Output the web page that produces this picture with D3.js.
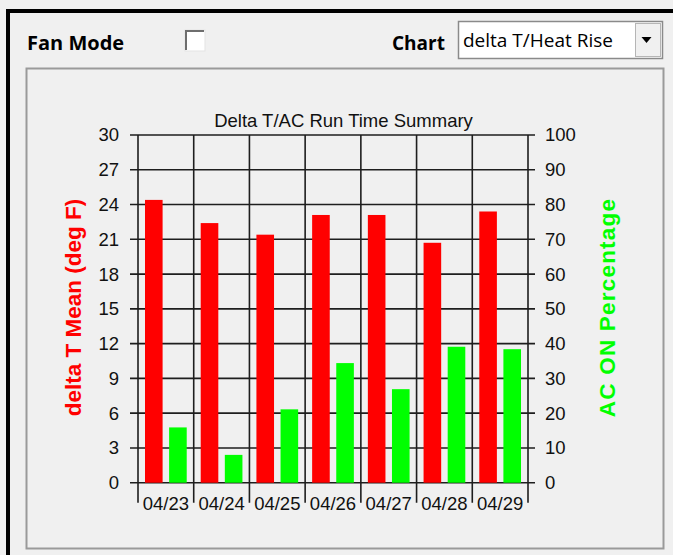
<!DOCTYPE html>
<html>
<head>
<meta charset="utf-8">
<script src="https://cdn.jsdelivr.net/npm/d3@7"></script>
<style>
  body { margin: 0; background: #f0f0f0; }
  svg { display: block; }
  .ui { font-family: "Open Sans", "Noto Sans", sans-serif; }
  .chart text { font-family: "Liberation Sans", Arial, sans-serif; fill: #111; }
</style>
</head>
<body>
<div id="chart"></div>
<script>
// data
const days = ["04/23", "04/24", "04/25", "04/26", "04/27", "04/28", "04/29"];
const deltaT = [24.4, 22.4, 21.4, 23.1, 23.1, 20.7, 23.4];
const acOn = [15.9, 8.0, 21.1, 34.4, 26.9, 39.1, 38.4];
const leftTicks = [0, 3, 6, 9, 12, 15, 18, 21, 24, 27, 30];
const rightTicks = [0, 10, 20, 30, 40, 50, 60, 70, 80, 90, 100];
const series = ["dt", "ac"];

const width = 673, height = 555;
const plot = { left: 138, right: 528, top: 135, bottom: 482.7 };

const svg = d3.select('#chart').append('svg')
	.attr('width', width)
	.attr('height', height);

// window frame
svg.append('rect')
	.attr('x', 8).attr('y', 11)
	.attr('width', 720).attr('height', 600)
	.attr('fill', '#f0f0f0')
	.attr('stroke', '#000')
	.attr('stroke-width', 4);

// top controls
svg.append('text').attr('class', 'ui')
	.attr('x', 27).attr('y', 50)
	.attr('font-size', 20).attr('font-weight', 'bold')
	.text('Fan Mode');

// checkbox
svg.append('rect')
	.attr('x', 185).attr('y', 30).attr('width', 20).attr('height', 21)
	.attr('fill', '#fff').attr('stroke', '#e3e3e3');
svg.append('path')
	.attr('d', 'M186,50 V31 H204')
	.attr('fill', 'none').attr('stroke', '#6e6e6e').attr('stroke-width', 2);

svg.append('text').attr('class', 'ui')
	.attr('x', 392).attr('y', 50)
	.attr('font-size', 19).attr('font-weight', 'bold')
	.text('Chart');

// dropdown
svg.append('rect')
	.attr('x', 458.5).attr('y', 21.5).attr('width', 204).attr('height', 37)
	.attr('fill', '#fff').attr('stroke', '#8a8a8a').attr('stroke-width', 1.5);
svg.append('rect')
	.attr('x', 635.5).attr('y', 23.5).attr('width', 25).attr('height', 33)
	.attr('fill', '#f0f0f0').attr('stroke', '#b5b5b5');
svg.append('path')
	.attr('d', 'M641.5,37 h10 l-5,6 z')
	.attr('fill', '#000');
svg.append('text').attr('class', 'ui')
	.attr('x', 463).attr('y', 47)
	.attr('font-size', 19)
	.text('delta T/Heat Rise');

// chart panel
svg.append('rect')
	.attr('x', 26.5).attr('y', 68.5)
	.attr('width', 637).attr('height', 480)
	.attr('fill', '#f0f0f0')
	.attr('stroke', '#9a9a9a')
	.attr('stroke-width', 2);

const g = svg.append('g').attr('class', 'chart');

const x = d3.scaleBand()
	.domain(days)
	.range([plot.left, plot.right]);
const xInner = d3.scaleBand()
	.domain(series)
	.range([0, x.bandwidth()])
	.paddingInner(0.27)
	.paddingOuter(0.29);
const yLeft = d3.scaleLinear().domain([0, 30]).range([plot.bottom, plot.top]);
const yRight = d3.scaleLinear().domain([0, 100]).range([plot.bottom, plot.top]);

// horizontal grid (with ticks both sides)
g.append('g')
	.selectAll('line')
	.data(leftTicks)
	.join('line')
	.attr('x1', plot.left - 8)
	.attr('x2', plot.right + 7)
	.attr('y1', d => yLeft(d))
	.attr('y2', d => yLeft(d))
	.attr('stroke', '#1e1e1e')
	.attr('stroke-width', 1.6);

// vertical separators between days
const bounds = days.map(d => x(d)).concat([plot.right]);
g.append('g')
	.selectAll('line')
	.data(bounds)
	.join('line')
	.attr('x1', d => d)
	.attr('x2', d => d)
	.attr('y1', plot.top)
	.attr('y2', plot.bottom + 20)
	.attr('stroke', '#1e1e1e')
	.attr('stroke-width', 1.6);

// bars
const groups = g.append('g')
	.selectAll('g')
	.data(days)
	.join('g')
	.attr('transform', d => `translate(${x(d)},0)`);

groups.append('rect')
	.attr('x', xInner('dt'))
	.attr('width', xInner.bandwidth())
	.attr('y', (d, i) => yLeft(deltaT[i]))
	.attr('height', (d, i) => yLeft(0) - yLeft(deltaT[i]))
	.attr('fill', '#ff0000');

groups.append('rect')
	.attr('x', xInner('ac'))
	.attr('width', xInner.bandwidth())
	.attr('y', (d, i) => yRight(acOn[i]))
	.attr('height', (d, i) => yRight(0) - yRight(acOn[i]))
	.attr('fill', '#00ff00');

// axes
const leftAxis = g.append('g')
	.attr('transform', `translate(${plot.left},0)`)
	.call(d3.axisLeft(yLeft).tickValues(leftTicks).tickSize(8).tickPadding(11));
const rightAxis = g.append('g')
	.attr('transform', `translate(${plot.right},0)`)
	.call(d3.axisRight(yRight).tickValues(rightTicks).tickSize(7).tickPadding(10));
const bottomAxis = g.append('g')
	.attr('transform', `translate(0,${plot.bottom})`)
	.call(d3.axisBottom(x).tickSize(0).tickPadding(14.5));

[leftAxis, rightAxis, bottomAxis].forEach(a => {
	a.attr('font-size', null).attr('font-family', null);
	a.select('.domain').remove();
	a.selectAll('line').remove();
	a.selectAll('text').attr('font-size', 18.5).attr('fill', '#111');
});

// title
g.append('text')
	.attr('x', 343.5)
	.attr('y', 126.5)
	.attr('text-anchor', 'middle')
	.attr('font-size', 18.5)
	.text('Delta T/AC Run Time Summary');

// axis titles
g.append('text')
	.attr('transform', 'translate(81,307.5) rotate(-90)')
	.attr('text-anchor', 'middle')
	.attr('font-size', 22.5)
	.attr('font-weight', 'bold')
	.style('fill', '#ff0000')
	.text('delta T Mean (deg F)');

g.append('text')
	.attr('transform', 'translate(615,307.5) rotate(-90)')
	.attr('text-anchor', 'middle')
	.attr('font-size', 22.5)
	.attr('font-weight', 'bold')
	.attr('letter-spacing', 1.2)
	.style('fill', '#00ff00')
	.text('AC ON Percentage');
</script>
</body>
</html>
